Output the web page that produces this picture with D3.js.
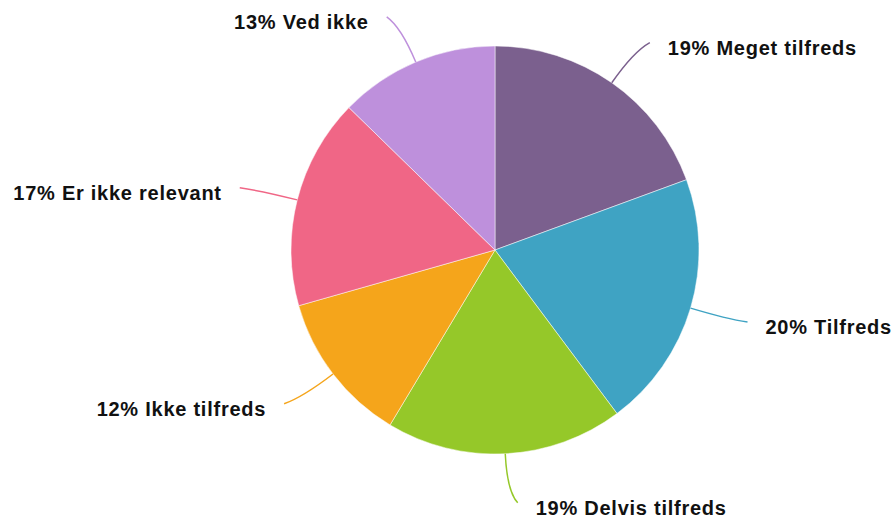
<!DOCTYPE html>
<html>
<head>
<meta charset="utf-8">
<script src="https://cdn.jsdelivr.net/npm/d3@7"></script>
<style>
  body { margin: 0; background: #fff; }
  svg { display: block; }
  text { font-family: "Liberation Sans", Arial, sans-serif; font-weight: bold; fill: #111; }
</style>
</head>
<body>
<svg id="chart"></svg>
<script>
const categories = ['Meget tilfreds', 'Tilfreds', 'Delvis tilfreds', 'Ikke tilfreds', 'Er ikke relevant', 'Ved ikke'];
const values = [19.4, 20.4, 18.8, 12.0, 16.7, 12.7];
const labels = ['19%', '20%', '19%', '12%', '17%', '13%'];
const colors = ['#7b608e', '#3fa3c3', '#95c829', '#f5a51b', '#f06686', '#be90dc'];

const width = 892;
const height = 518;
const cx = 495, cy = 250;
const radius = 204;

const svg = d3.select('#chart').attr('width', width).attr('height', height);
const g = svg.append('g').attr('transform', `translate(${cx},${cy})`);

const data = categories.map((c, i) => ({ name: c, value: values[i], label: labels[i], color: colors[i] }));

const pie = d3.pie().sort(null).value(d => d.value);
const arcs = pie(data);

const arc = d3.arc().innerRadius(0).outerRadius(radius);

g.selectAll('path.slice')
  .data(arcs)
  .enter().append('path')
  .attr('class', 'slice')
  .attr('d', arc)
  .attr('fill', d => d.data.color)
  .attr('stroke', '#fff')
  .attr('stroke-width', 0.5);

// point at radius r on the mid angle of a slice
function polar(d, r) {
  const a = (d.startAngle + d.endAngle) / 2;
  return [r * Math.sin(a), -r * Math.cos(a)];
}
function side(d) {
  const a = (d.startAngle + d.endAngle) / 2;
  return a < Math.PI ? 1 : -1;
}

// leader lines
g.selectAll('path.leader')
  .data(arcs)
  .enter().append('path')
  .attr('class', 'leader')
  .attr('fill', 'none')
  .attr('stroke', d => d.data.color)
  .attr('stroke-width', 1.5)
  .attr('d', d => {
    const p0 = polar(d, radius);
    const c = polar(d, 242);
    const e = polar(d, 253);
    e[0] += side(d) * 10;
    return `M${p0[0]},${p0[1]}Q${c[0]},${c[1]} ${e[0]},${e[1]}`;
  });

// labels
g.selectAll('text.label')
  .data(arcs)
  .enter().append('text')
  .attr('class', 'label')
  .attr('font-size', 20)
  .attr('letter-spacing', 0.75)
  .attr('text-anchor', d => side(d) > 0 ? 'start' : 'end')
  .attr('x', d => polar(d, 253)[0] + side(d) * 28)
  .attr('y', d => polar(d, 253)[1] + 12)
  .text(d => d.data.label + ' ' + d.data.name);
</script>
</body>
</html>
